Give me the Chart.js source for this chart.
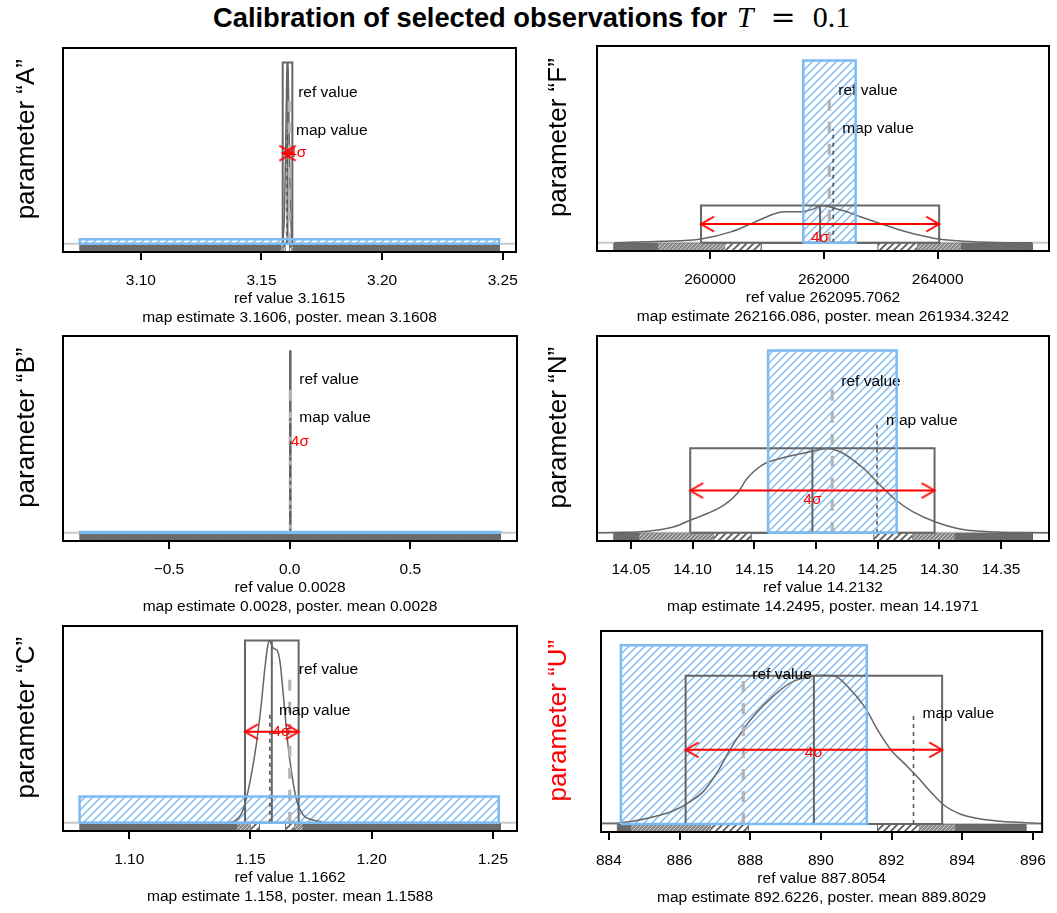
<!DOCTYPE html>
<html><head><meta charset="utf-8">
<script src="https://cdn.jsdelivr.net/npm/chart.js@4.4.1/dist/chart.umd.min.js"></script>
<style>
html,body{margin:0;padding:0;background:#fff;}
body{width:1057px;height:913px;position:relative;overflow:hidden;font-family:"Liberation Sans",Arial,sans-serif;}
#title{position:absolute;left:213px;top:0;text-align:left;line-height:34px;font-size:27.3px;font-weight:bold;color:#000;white-space:nowrap;}
#title .m{font-family:"Liberation Serif","DejaVu Serif",serif;font-weight:normal;font-size:30px;margin-left:2px;}
#title .eq{font-family:"DejaVu Serif",serif;margin:0 17px;}
canvas{position:absolute;}
</style></head><body>
<div id="title">Calibration of selected observations for <span class="m"><i>T</i><span class="eq">=</span>0.1</span></div>
<script>
// ---------------- data ----------------
const panelNames = ['A', 'F', 'B', 'N', 'C', 'U'];
const refValues  = [3.1615, 262095.7062, 0.0028, 14.2132, 1.1662, 887.8054];
const mapValues  = [3.1606, 262166.086, 0.0028, 14.2495, 1.158, 892.6226];
const meanValues = [3.1608, 261934.3242, 0.0028, 14.1971, 1.1588, 889.8029];
const sigmaValues = [0.001, 1046, 0, 0.0495, 0.00553, 1.815];
const postPeak   = [1.0, 0.205, 1.0, 0.464, 1.0, 0.83];
const priorLo    = [3.0747, 261639, -0.8692, 14.1612, 1.0795, 884.34];
const priorHi    = [3.2485, 262559, 0.8721, 14.2654, 1.2524, 891.30];
const priorH     = [0.026, 1.0, 0.004, 1.0, 0.145, 1.0];
const xlimLo     = [3.07469, 258309, -0.8692, 14.0361, 1.0796, 884.24];
const xlimHi     = [3.24855, 265662, 0.8721, 14.3753, 1.2530, 895.80];
const refLabelH  = [0.835, 0.835, 0.84, 0.83, 0.84, 0.835];
const mapLabelH  = [0.626, 0.625, 0.63, 0.615, 0.615, 0.615];
const sigmaLabelH = [0.5, 0.027, 0.5, 0.18, 0.5, 0.40];

// quantile strip breakpoints (dense | sparse | white | sparse | dense)
const stripA = [3.1581, 3.1592, 3.1598, 3.1618, 3.1624, 3.1632];
const stripF = [259085, 260265, 260900, 262955, 263640, 264410];
const stripB = [0.0027, 0.00275, 0.0028, 0.0028, 0.00285, 0.0029];
const stripN = [14.0567, 14.1170, 14.1475, 14.2472, 14.2782, 14.3125];
const stripC = [1.14447, 1.1501, 1.1537, 1.1646, 1.1680, 1.17155];
const stripU = [884.62, 886.89, 887.95, 891.61, 892.78, 893.81];

// tick values / labels
const ticksA = [3.10, 3.15, 3.20, 3.25];
const tickLabelsA = ['3.10', '3.15', '3.20', '3.25'];
const ticksF = [260000, 262000, 264000];
const tickLabelsF = ['260000', '262000', '264000'];
const ticksB = [-0.5, 0, 0.5];
const tickLabelsB = ['\u22120.5', '0.0', '0.5'];
const ticksN = [14.05, 14.10, 14.15, 14.20, 14.25, 14.30, 14.35];
const tickLabelsN = ['14.05', '14.10', '14.15', '14.20', '14.25', '14.30', '14.35'];
const ticksC = [1.10, 1.15, 1.20, 1.25];
const tickLabelsC = ['1.10', '1.15', '1.20', '1.25'];
const ticksU = [884, 886, 888, 890, 892, 894, 896];
const tickLabelsU = ['884', '886', '888', '890', '892', '894', '896'];

// posterior density curves (relative height)
const densXA = [3.1584, 3.1590, 3.1596, 3.1601, 3.1605, 3.1608, 3.1611, 3.1615, 3.1620, 3.1626, 3.1632];
const densYA = [0, 0.03, 0.2, 0.6, 0.93, 1.0, 0.93, 0.6, 0.2, 0.03, 0];
const densXF = [258326, 259143, 259843, 260367, 260775, 261125, 261300, 261592, 261824, 261941, 262059, 262200, 262408, 262641, 262991, 263341, 263574, 264011, 264448, 265032, 265662];
const densYF = [0, 0.008, 0.021, 0.060, 0.112, 0.158, 0.170, 0.171, 0.186, 0.205, 0.200, 0.188, 0.170, 0.143, 0.106, 0.070, 0.050, 0.021, 0.009, 0.002, 0];
const densXB = [0.0026, 0.0028, 0.0030];
const densYB = [0, 1.0, 0];
const densXN = [14.0225, 14.0365, 14.0635, 14.0850, 14.0985, 14.1120, 14.1254, 14.1362, 14.1443, 14.1564, 14.1712, 14.1954, 14.2089, 14.2196, 14.2385, 14.2519, 14.2654, 14.2788, 14.2964, 14.3192, 14.3462, 14.3677, 14.3885];
const densYN = [0, 0.002, 0.009, 0.033, 0.070, 0.106, 0.152, 0.216, 0.299, 0.372, 0.408, 0.445, 0.463, 0.445, 0.354, 0.262, 0.176, 0.115, 0.061, 0.018, 0.004, 0.001, 0];
const densXC = [1.1400, 1.14335, 1.14611, 1.14818, 1.15024, 1.15231, 1.15437, 1.15574, 1.15710, 1.15780, 1.15863, 1.15958, 1.16082, 1.16222, 1.16358, 1.16536, 1.16718, 1.16908, 1.17155, 1.17568, 1.17981];
const densYC = [0, 0.009, 0.046, 0.128, 0.256, 0.421, 0.641, 0.824, 0.971, 0.998, 0.980, 0.956, 0.949, 0.879, 0.696, 0.440, 0.256, 0.119, 0.046, 0.015, 0.004];
const densXU = [883.8, 884.34, 885.09, 885.83, 886.30, 886.67, 887.05, 887.42, 887.79, 888.16, 888.63, 889.10, 889.56, 890.03, 890.40, 890.77, 891.24, 891.61, 891.99, 892.36, 892.73, 893.10, 893.48, 893.94, 894.41, 894.97, 895.81, 896.28];
const densYU = [0.004, 0.007, 0.032, 0.074, 0.125, 0.181, 0.283, 0.413, 0.525, 0.618, 0.711, 0.786, 0.819, 0.832, 0.827, 0.767, 0.655, 0.525, 0.413, 0.339, 0.264, 0.181, 0.106, 0.056, 0.032, 0.017, 0.007, 0.002];

const strips = [stripA, stripF, stripB, stripN, stripC, stripU];
const tickVals = [ticksA, ticksF, ticksB, ticksN, ticksC, ticksU];
const tickLabs = [tickLabelsA, tickLabelsF, tickLabelsB, tickLabelsN, tickLabelsC, tickLabelsU];
const densX = [densXA, densXF, densXB, densXN, densXC, densXU];
const densY = [densYA, densYF, densYB, densYN, densYC, densYU];

// ---------------- layout / style ----------------
const Y_MIN = -0.045, Y_MAX = 1.08;
const layout = [
  {left: 0,   top: 40,  w: 530, frameH: 204, yw: 63, pr: 14, align: 'left'},
  {left: 532, top: 38,  w: 525, frameH: 205, yw: 65, pr: 8,  align: 'center'},
  {left: 0,   top: 328, w: 530, frameH: 205, yw: 63, pr: 13, align: 'left'},
  {left: 532, top: 328, w: 525, frameH: 205, yw: 65, pr: 8,  align: 'center'},
  {left: 0,   top: 618, w: 530, frameH: 205, yw: 63, pr: 13, align: 'left'},
  {left: 532, top: 623, w: 525, frameH: 201, yw: 69, pr: 10, align: 'center', titleColor: '#ff0000'}
];
const FONT = '"Liberation Sans", Arial, Helvetica, sans-serif';
const FS = 15.5;
const RED = '#ff0000', BLUE = '#7cbaf2', GRAY = '#666666';
Chart.defaults.font.family = FONT;
Chart.defaults.color = '#000';

function hatch(size, bg, fg, lw) {
  const c = document.createElement('canvas'); c.width = c.height = size;
  const g = c.getContext('2d');
  if (bg) { g.fillStyle = bg; g.fillRect(0, 0, size, size); }
  g.strokeStyle = fg; g.lineWidth = lw;
  g.beginPath();
  g.moveTo(-size / 2, size / 2); g.lineTo(size / 2, -size / 2);
  g.moveTo(-1, size + 1); g.lineTo(size + 1, -1);
  g.moveTo(size / 2, size * 1.5); g.lineTo(size * 1.5, size / 2);
  g.stroke();
  return g.createPattern(c, 'repeat');
}
const PAT_BLUE = hatch(8, null, '#7fbcf3', 1.5);
const PAT_DARK = hatch(3, '#666666', '#777777', 1);
const PAT_DENSE = hatch(4, '#8a8a8a', '#d0d0d0', 1);
const PAT_SPARSE = hatch(7, '#ffffff', '#606060', 1.9);

function arrowHead(dir) {
  const s = 34, c = document.createElement('canvas'); c.width = c.height = s;
  const g = c.getContext('2d'); g.strokeStyle = RED; g.lineWidth = 2;
  const L = 15, a = Math.PI / 6, cx = s / 2;
  g.beginPath();
  g.moveTo(cx - dir * L * Math.cos(a), cx - L * Math.sin(a));
  g.lineTo(cx, cx);
  g.lineTo(cx - dir * L * Math.cos(a), cx + L * Math.sin(a));
  g.stroke();
  return c;
}
const ARROW_L = arrowHead(-1), ARROW_R = arrowHead(1);

function ds(points, color, width, extra) {
  return Object.assign({data: points, showLine: true, borderColor: color, borderWidth: width,
    pointRadius: 0, pointHoverRadius: 0, fill: false, tension: 0}, extra || {});
}
const rect4 = (x0, x1, y0, y1) => [{x: x0, y: y0}, {x: x0, y: y1}, {x: x1, y: y1}, {x: x1, y: y0}];
const rect5 = (x0, x1, y0, y1) => rect4(x0, x1, y0, y1).concat([{x: x0, y: y0}]);

function buildPanel(i) {
  const L = layout[i];
  const lo = xlimLo[i], hi = xlimHi[i], ext = 0.04 * (hi - lo);
  const xmin = lo - ext, xmax = hi + ext;
  const sTop = -0.003, sBot = Y_MIN;
  const q = strips[i];
  const m = meanValues[i], s = sigmaValues[i], pk = postPeak[i];
  const none = 'rgba(0,0,0,0)';
  const layers = [
    ds([{x: xmin, y: 0}, {x: xmax, y: 0}], '#c8c8c8', 2),
    ds(rect4(lo, hi, sBot, sTop), GRAY, 1, {fill: {value: sBot}, backgroundColor: PAT_DARK}),
    ds(rect4(q[0], q[1], sBot, sTop), none, 0, {fill: {value: sBot}, backgroundColor: PAT_DENSE}),
    ds(rect4(q[1], q[2], sBot, sTop), none, 0, {fill: {value: sBot}, backgroundColor: PAT_SPARSE}),
    ds(rect4(q[2], q[3], sBot, sTop), GRAY, 1, {fill: {value: sBot}, backgroundColor: '#ffffff'}),
    ds(rect4(q[3], q[4], sBot, sTop), none, 0, {fill: {value: sBot}, backgroundColor: PAT_SPARSE}),
    ds(rect4(q[4], q[5], sBot, sTop), none, 0, {fill: {value: sBot}, backgroundColor: PAT_DENSE}),
    // prior hatch (lines only)
    ds(rect4(priorLo[i], priorHi[i], 0, priorH[i]), none, 0, {fill: {value: 0}, backgroundColor: PAT_BLUE}),
    ds(densX[i].map((x, k) => ({x, y: densY[i][k]})), GRAY, 1.5, {cubicInterpolationMode: 'monotone'}),
    ds(rect5(m - 2 * s, m + 2 * s, 0, pk), GRAY, 2),
    ds([{x: m, y: 0}, {x: m, y: pk}], GRAY, 2),
    ds([{x: refValues[i], y: 0}, {x: refValues[i], y: refLabelH[i]}], '#b4b4b4', 3.2, {borderDash: [11, 11]}),
    ds([{x: mapValues[i], y: 0}, {x: mapValues[i], y: mapLabelH[i]}], '#555555', 1.6, {borderDash: [4, 4]})
  ];
  const mapIdx = layers.length - 1;
  layers.push(ds(rect5(priorLo[i], priorHi[i], 0, priorH[i]), BLUE, 2.5));
  if (s > 0) {
    layers.push(ds([{x: m - 2 * s, y: pk / 2}, {x: m + 2 * s, y: pk / 2}], RED, 2,
      {pointRadius: 4, pointStyle: [ARROW_L, ARROW_R], pointBorderWidth: 0}));
  }
  layers.forEach((d, k) => { d.order = layers.length - k; });

  const plugin = {
    id: 'annot' + i,
    afterDatasetDraw(chart, args) {
      if (args.index !== mapIdx) return;
      const ctx = chart.ctx, xs = chart.scales.x, ys = chart.scales.y;
      ctx.save();
      ctx.font = FS + 'px ' + FONT; ctx.fillStyle = '#000';
      ctx.textAlign = 'left'; ctx.textBaseline = 'middle';
      ctx.fillText('ref value', xs.getPixelForValue(refValues[i]) + 9, ys.getPixelForValue(refLabelH[i]));
      ctx.fillText('map value', xs.getPixelForValue(mapValues[i]) + 9, ys.getPixelForValue(mapLabelH[i]));
      ctx.restore();
    },
    afterDatasetsDraw(chart) {
      const ctx = chart.ctx, xs = chart.scales.x, ys = chart.scales.y;
      ctx.save();
      ctx.font = FS + 'px ' + FONT; ctx.fillStyle = RED;
      ctx.textAlign = L.align; ctx.textBaseline = 'middle';
      ctx.fillText('4\u03c3', xs.getPixelForValue(m) + (L.align === 'left' ? 0.5 : 0), ys.getPixelForValue(sigmaLabelH[i]));
      ctx.restore();
    },
    afterDraw(chart) {
      const a = chart.chartArea, ctx = chart.ctx;
      ctx.save(); ctx.strokeStyle = '#000'; ctx.lineWidth = 2;
      ctx.strokeRect(a.left, a.top, a.right - a.left, a.bottom - a.top);
      ctx.restore();
    }
  };

  const cv = document.createElement('canvas');
  const H = 8 + L.frameH + 76;
  cv.width = L.w; cv.height = H;
  cv.style.left = L.left + 'px'; cv.style.top = L.top + 'px';
  cv.style.width = L.w + 'px'; cv.style.height = H + 'px';
  document.body.appendChild(cv);

  new Chart(cv, {
    type: 'scatter',
    data: {datasets: layers},
    plugins: [plugin],
    options: {
      responsive: false, devicePixelRatio: 1, animation: false, events: [],
      layout: {padding: {top: 8, right: L.pr, left: 0, bottom: 0}},
      plugins: {legend: {display: false}, tooltip: {enabled: false}},
      scales: {
        x: {
          type: 'linear', position: 'bottom', min: xmin, max: xmax,
          afterBuildTicks: sc => { sc.ticks = tickVals[i].map(v => ({value: v})); },
          afterFit: sc => { sc.height = 76; },
          ticks: {autoSkip: false, maxRotation: 0, minRotation: 0, padding: 11,
            font: {size: FS, lineHeight: 1.2}, color: '#000',
            callback: (v, idx) => tickLabs[i][idx]},
          grid: {display: true, drawOnChartArea: false, drawTicks: true, tickLength: 8, color: '#000', lineWidth: 2},
          border: {display: false},
          title: {display: true, color: '#000',
            text: ['ref value ' + refValues[i], 'map estimate ' + mapValues[i] + ', poster. mean ' + meanValues[i]],
            font: {size: FS, lineHeight: 19 / FS}, padding: {top: 0, bottom: 1}}
        },
        y: {
          type: 'linear', position: 'left', min: Y_MIN, max: Y_MAX,
          afterFit: sc => { sc.width = L.yw; },
          ticks: {display: false}, grid: {display: false}, border: {display: false},
          title: {display: true, text: '   parameter \u201c' + panelNames[i] + '\u201d',
            color: L.titleColor || '#000', font: {size: 26, lineHeight: 1.2}, padding: {top: 11, bottom: 0}}
        }
      }
    }
  });
}
for (let i = 0; i < 6; i++) buildPanel(i);
</script>
</body></html>
